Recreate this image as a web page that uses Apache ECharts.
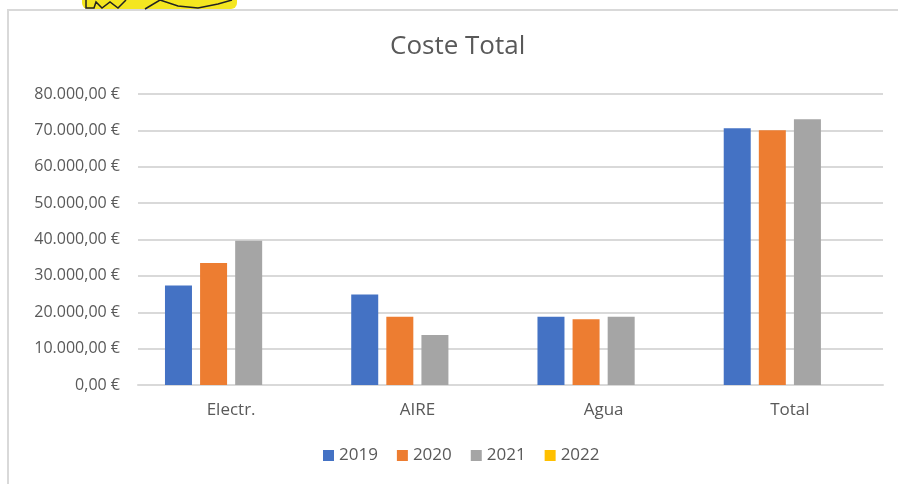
<!DOCTYPE html>
<html>
<head>
<meta charset="utf-8">
<script src="https://cdn.jsdelivr.net/npm/echarts@6/dist/echarts.min.js"></script>
<style>
  html, body { margin: 0; padding: 0; background: #fff; }
  #chart { width: 898px; height: 484px; }
</style>
</head>
<body>
<div id="chart"></div>
<script>
  // data
  const categories = ['Electr.', 'AIRE', 'Agua', 'Total'];
  const years = ['2019', '2020', '2021', '2022'];
  const v2019 = [27350, 24870, 18730, 70600];
  const v2020 = [33520, 18730, 18100, 70050];
  const v2021 = [39670, 13770, 18730, 73080];
  const v2022 = [null, null, null, null];
  const colors = ['#4472C4', '#ED7D31', '#A5A5A5', '#FFC000'];

  const fmt = (v) => {
    const s = Math.round(v).toString().replace(/\B(?=(\d{3})+(?!\d))/g, '.');
    return s + ',00 €';
  };

  const chart = echarts.init(document.getElementById('chart'));
  const values = [v2019, v2020, v2021, v2022];
  // the chart frame runs past the right edge, so title/legend sit right of page centre
  const option = {
    animation: false,
    color: colors,
    textStyle: { fontFamily: 'Open Sans' },
    title: {
      text: 'Coste Total',
      left: 385,
      top: 29,
      textStyle: { fontSize: 26, fontWeight: 'normal', color: '#595959', fontFamily: 'Open Sans' }
    },
    legend: {
      bottom: 15,
      left: 318,
      itemWidth: 11,
      itemHeight: 11,
      itemGap: 19,
      icon: 'rect',
      textStyle: { fontSize: 17, color: '#595959' },
      data: years
    },
    grid: { left: 138, right: 15, top: 94, bottom: 99 },
    xAxis: {
      type: 'category',
      data: categories,
      axisLine: { lineStyle: { color: '#d9d9d9', width: 2 } },
      axisTick: { show: false },
      axisLabel: { fontSize: 17, color: '#595959', margin: 17 }
    },
    yAxis: {
      type: 'value',
      min: 0,
      max: 80000,
      interval: 10000,
      axisLine: { show: false },
      axisTick: { show: false },
      splitLine: { lineStyle: { color: '#d9d9d9', width: 2 } },
      axisLabel: { fontSize: 16, color: '#595959', margin: 18, formatter: fmt }
    },
    series: years.map((y, i) => ({
      name: y,
      type: 'bar',
      barWidth: 27,
      barGap: '30%',
      data: values[i]
    })),
    graphic: [
      {
        type: 'rect',
        shape: { x: 8, y: 10, width: 900, height: 500 },
        style: { fill: 'none', stroke: '#d9d9d9', lineWidth: 2 },
        z: -1
      },
      {
        type: 'rect',
        shape: { x: 82, y: 0, width: 155, height: 9, r: [0, 0, 6, 6] },
        style: { fill: '#f4e620' }
      },
      {
        type: 'polyline',
        shape: { points: [[86, 0], [86, 8], [94, 8], [96, 2], [102, 8], [110, 2], [118, 8], [126, 0]] },
        style: { fill: 'none', stroke: '#222', lineWidth: 1.5 }
      },
      {
        type: 'polyline',
        shape: { points: [[145, 9], [160, 0], [178, 6], [198, 8], [218, 4], [232, 0]] },
        style: { fill: 'none', stroke: '#222', lineWidth: 1.5 }
      }
    ]
  };
  chart.setOption(option);
</script>
</body>
</html>
